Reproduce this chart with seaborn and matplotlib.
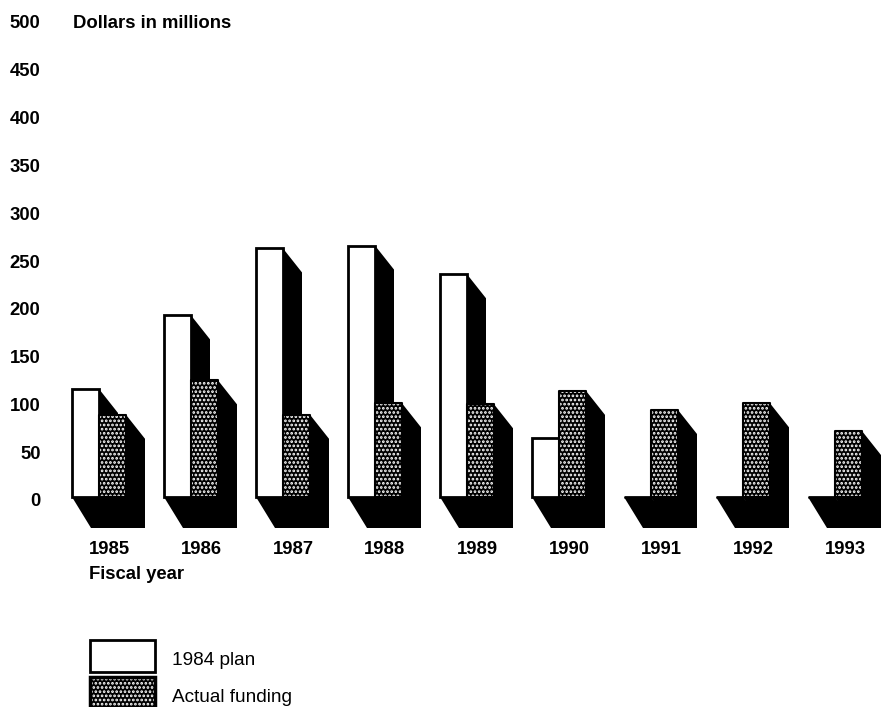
import pandas as pd
import matplotlib.pyplot as plt
from matplotlib.patches import Patch
from matplotlib.transforms import ScaledTranslation
import seaborn as sns

# data
years = ['1985', '1986', '1987', '1988', '1989', '1990', '1991', '1992', '1993']
plan = [113, 190, 260, 263, 233, 62, 0, 0, 0]
actual = [86, 122, 86, 98, 97, 111, 91, 98, 69]
y_ticks = [0, 50, 100, 150, 200, 250, 300, 350, 400, 450, 500]

W, H = 881, 707
PX_X = 92.0      # pixels per category
PX_Y = 0.956     # pixels per dollar million
DEPTH_X = 19 / PX_X
DEPTH_TOP = 24 / PX_Y
DEPTH_FLOOR = 31 / PX_Y
BOLD = 13.3

sns.set_theme(style='white', rc={'text.color': 'black', 'xtick.color': 'black',
                                 'ytick.color': 'black', 'axes.labelcolor': 'black',
                                 'hatch.linewidth': 1.3})
plt.rcParams['font.family'] = ['Liberation Sans', 'DejaVu Sans']

df = pd.DataFrame({'year': years, '1984 plan': plan, 'Actual funding': actual})
df = df.melt(id_vars='year', var_name='series', value_name='value')

fig = plt.figure(figsize=(W / 100, H / 100), dpi=100)
left, right, top, bottom = 60, 881, 10, 535
ax = fig.add_axes([left / W, (H - bottom) / H, (right - left) / W, (bottom - top) / H])

sns.barplot(data=df, x='year', y='value', hue='series', order=years,
            hue_order=['1984 plan', 'Actual funding'], width=54 / PX_X, gap=0,
            palette=['white', 'black'], legend=False, ax=ax, zorder=3)

ax.set_xlim((left - 99) / PX_X, (right - 99) / PX_X)
ax.set_ylim((497 - bottom) / PX_Y, (497 - top) / PX_Y)

# bar faces
for bar in ax.containers[0]:
    bar.set_edgecolor('black')
    bar.set_linewidth(2.0)
for bar in ax.containers[1]:
    bar.set_facecolor('black')
    bar.set_edgecolor('white')
    bar.set_hatch('....')
    bar.set_linewidth(0)
    # black rim round the dots
    x0, x1, h = bar.get_x(), bar.get_x() + bar.get_width(), bar.get_height()
    ax.plot([x0, x0, x1, x1, x0], [0, h, h, 0, 0], color='black', lw=1.5, zorder=4)

# black side and floor of each bar, taken from the drawn bars
for cont in ax.containers:
    for bar in cont:
        x0 = bar.get_x()
        x1 = x0 + bar.get_width()
        h = bar.get_height()
        ax.fill([x1, x1 + DEPTH_X, x1 + DEPTH_X, x0 + DEPTH_X, x0, x1],
                [h, h - DEPTH_TOP, -DEPTH_FLOOR, -DEPTH_FLOOR, 0, 0],
                color='black', lw=0, zorder=2)

sns.despine(ax=ax, left=True, bottom=True)
ax.set_yticks(y_ticks)
ax.tick_params(axis='both', length=0, labelsize=BOLD)
ax.tick_params(axis='y', pad=14)
ax.tick_params(axis='x', pad=4)
for lab in ax.get_xticklabels():
    lab.set_fontweight('bold')
    lab.set_transform(lab.get_transform() + ScaledTranslation(10 / 100, 0, fig.dpi_scale_trans))
for lab in ax.get_yticklabels():
    lab.set_fontweight('bold')
    lab.set_transform(lab.get_transform() + ScaledTranslation(0, -3 / 100, fig.dpi_scale_trans))

ax.set_ylabel('')
ax.set_xlabel('Fiscal year', loc='left', fontweight='bold', fontsize=BOLD)
ax.xaxis.set_label_coords((89 - left) / (right - left), (bottom - 566) / (bottom - top))
ax.xaxis.label.set_va('top')
ax.text((73 - left) / (right - left), (bottom - 23) / (bottom - top), 'Dollars in millions',
        transform=ax.transAxes, fontsize=BOLD, fontweight='bold', va='center', ha='left')

plan_patch = Patch(facecolor='white', edgecolor='black', linewidth=2.0)
dots_patch = Patch(facecolor='black', edgecolor='white', hatch='....', linewidth=0)
rim_patch = Patch(fill=False, edgecolor='black', linewidth=2.5)
leg = fig.legend(handles=[plan_patch, (dots_patch, rim_patch)], labels=['1984 plan', 'Actual funding'],
                 loc='lower left', bbox_to_anchor=(90 / W, -2 / H), frameon=False,
                 fontsize=13.7, handlelength=3.42, handleheight=2.21, handletextpad=0.9,
                 labelspacing=0.26, borderpad=0, borderaxespad=0)
# legend labels sit a little lower in the original
for t in leg.get_texts():
    t.set_y(-3)

plt.savefig('out.png', dpi=100)
